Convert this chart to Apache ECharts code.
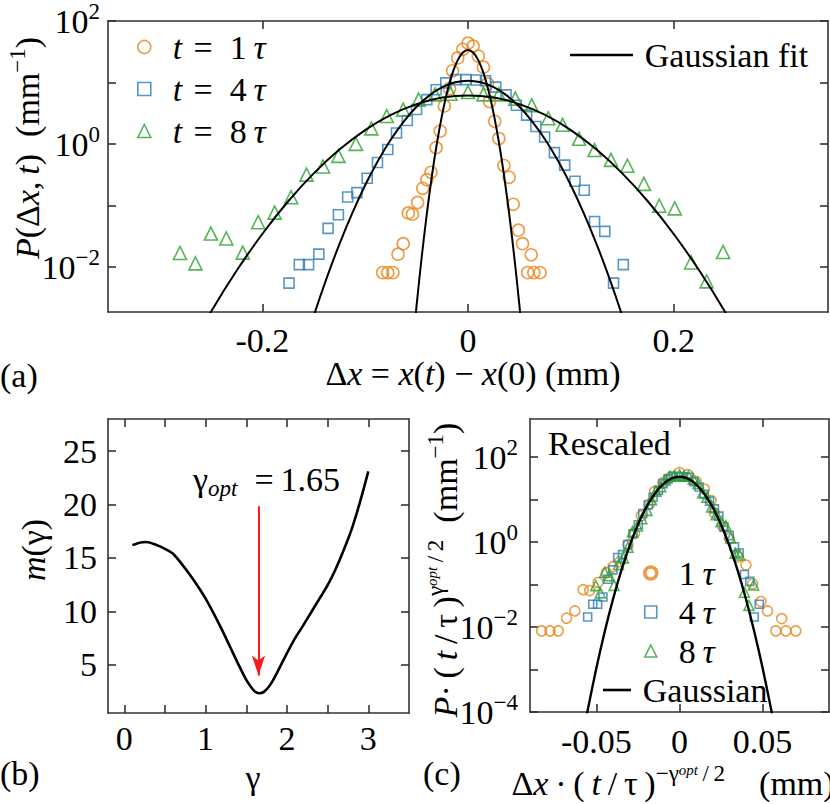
<!DOCTYPE html>
<html><head><meta charset="utf-8">
<script src="https://cdn.jsdelivr.net/npm/echarts@6.0.0/dist/echarts.min.js"></script>
<style>html,body{margin:0;padding:0;background:#fff}#c{width:830px;height:804px}
#fw{position:absolute;left:-9999px;top:0;font-family:'Liberation Serif';font-size:34px}</style>
</head><body><div id="fw">Gaussian fit 0.2 <i>t x</i> τγΔ</div><div id="c"></div><script>
// ---------------- Panel (a): P(dx,t), log10 values ----------------
const dx_t1 = [-0.083,-0.078,-0.073,-0.068,-0.063,-0.058,-0.054,-0.049,-0.044,-0.040,-0.036,-0.031,-0.027,-0.023,-0.018,-0.015,-0.010,-0.005,0.000,0.005,0.010,0.015,0.019,0.021,0.026,0.030,0.035,0.040,0.044,0.049,0.053,0.058,0.0615,0.064,0.070];
const logP_t1 = [-2.09,-2.09,-2.09,-1.79,-1.62,-1.12,-1.14,-0.95,-0.72,-0.58,-0.46,-0.06,0.21,0.62,0.90,1.19,1.40,1.54,1.64,1.59,1.43,1.25,0.98,0.69,0.37,0.09,-0.35,-0.54,-0.98,-1.40,-1.62,-2.09,-1.80,-2.09,-2.09];
const dx_t4 = [-0.174,-0.164,-0.155,-0.145,-0.136,-0.126,-0.117,-0.108,-0.098,-0.088,-0.078,-0.0695,-0.059,-0.050,-0.040,-0.031,-0.0216,-0.012,-0.002,0.008,0.017,0.027,0.037,0.047,0.057,0.066,0.0745,0.084,0.094,0.104,0.113,0.123,0.133,0.1415,0.151];
const logP_t4 = [-2.26,-1.96,-1.96,-1.79,-1.37,-1.15,-0.86,-0.79,-0.556,-0.30,-0.088,0.179,0.382,0.562,0.722,0.882,0.994,1.047,1.047,1.042,1.03,0.925,0.80,0.63,0.47,0.286,0.115,-0.14,-0.343,-0.604,-0.752,-1.26,-1.42,-2.26,-1.96];
const dx_t8 = [-0.280,-0.265,-0.250,-0.235,-0.219,-0.204,-0.188,-0.172,-0.157,-0.141,-0.126,-0.109,-0.094,-0.079,-0.063,-0.048,-0.032,-0.017,0.000,0.015,0.030,0.046,0.062,0.078,0.092,0.108,0.123,0.139,0.155,0.171,0.186,0.201,0.217,0.232,0.248];
const logP_t8 = [-1.77,-1.94,-1.455,-1.535,-1.765,-1.27,-1.115,-0.865,-0.497,-0.364,-0.193,0.003,0.254,0.455,0.56,0.722,0.807,0.818,0.845,0.807,0.807,0.738,0.63,0.42,0.313,0.085,-0.098,-0.257,-0.353,-0.647,-1.003,-1.046,-1.925,-2.233,-1.754];
// Gaussian fit curves
const fitX_t1 = [-0.055,-0.05,-0.045,-0.04,-0.035,-0.03,-0.025,-0.02,-0.015,-0.01,-0.005,0,0.005,0.01,0.015,0.02,0.025,0.03,0.035,0.04,0.045,0.05,0.055];
const fitLogP_t1 = [-3.498,-2.625,-1.836,-1.129,-0.506,0.034,0.491,0.865,1.156,1.364,1.488,1.53,1.488,1.364,1.156,0.865,0.491,0.034,-0.506,-1.129,-1.836,-2.625,-3.498];
const fitX_t4 = [-0.1625,-0.15,-0.1375,-0.125,-0.1125,-0.1,-0.0875,-0.075,-0.0625,-0.05,-0.0375,-0.025,-0.0125,0,0.0125,0.025,0.0375,0.05,0.0625,0.075,0.0875,0.1,0.1125,0.125,0.1375,0.15,0.1625];
const fitLogP_t4 = [-3.459,-2.795,-2.184,-1.626,-1.122,-0.670,-0.272,0.074,0.366,0.605,0.791,0.924,1.003,1.03,1.003,0.924,0.791,0.605,0.366,0.074,-0.272,-0.670,-1.122,-1.626,-2.184,-2.795,-3.459];
const fitX_t8 = [-0.275,-0.25,-0.225,-0.2,-0.175,-0.15,-0.125,-0.1,-0.075,-0.05,-0.025,0,0.025,0.05,0.075,0.1,0.125,0.15,0.175,0.2,0.225,0.25,0.275];
const fitLogP_t8 = [-3.468,-2.729,-2.060,-1.462,-0.934,-0.477,-0.090,0.227,0.473,0.649,0.755,0.79,0.755,0.649,0.473,0.227,-0.090,-0.477,-0.934,-1.462,-2.060,-2.729,-3.468];
const aXTicks = [-0.2,0,0.2];
const aYTicks = [-2,-1,0,1,2];
const aYLabels = [-2,0,2];

// ---------------- Panel (b): m(gamma) ----------------
const gamma = [0.1,0.2,0.27,0.4,0.5,0.6,0.7,0.8,0.9,1.0,1.1,1.2,1.3,1.4,1.5,1.6,1.66,1.72,1.8,1.9,2.0,2.1,2.2,2.3,2.4,2.5,2.6,2.7,2.8,2.9,3.0];
const mGamma = [16.2,16.45,16.5,16.2,15.85,15.4,14.5,13.5,12.4,11.2,9.8,8.3,6.7,5.1,3.6,2.55,2.35,2.5,3.2,4.6,6.1,7.5,8.7,9.95,11.2,12.45,14.0,15.8,17.8,20.3,23.1];
const gammaOpt = 1.65;
const arrowFrom = 19.85, arrowTo = 4.0;
const bXTicks = [0,0.5,1,1.5,2,2.5,3];
const bXLabels = [0,1,2,3];
const bYTicks = [5,10,15,20,25];

// ---------------- Panel (c): rescaled, log10 values ----------------
const dxr_t4 = [-0.0553,-0.0522,-0.0493,-0.0461,-0.0432,-0.0401,-0.0372,-0.0343,-0.0312,-0.0280,-0.0248,-0.0221,-0.0188,-0.0159,-0.0127,-0.0099,-0.0069,-0.0038,-0.0006,0.0025,0.0054,0.0086,0.0118,0.0149,0.0181,0.0210,0.0237,0.0267,0.0299,0.0331,0.0359,0.0391,0.0423,0.0450,0.0480];
const logPr_t4 = [-1.763,-1.463,-1.463,-1.293,-0.873,-0.653,-0.363,-0.293,-0.059,0.197,0.409,0.676,0.879,1.059,1.219,1.379,1.491,1.544,1.544,1.539,1.527,1.422,1.297,1.127,0.967,0.783,0.612,0.357,0.154,-0.107,-0.255,-0.763,-0.923,-1.763,-1.463];
const dxr_t8 = [-0.0504,-0.0477,-0.0450,-0.0423,-0.0394,-0.0367,-0.0338,-0.0310,-0.0283,-0.0254,-0.0227,-0.0196,-0.0169,-0.0142,-0.0113,-0.0086,-0.0058,-0.0031,0.0000,0.0027,0.0054,0.0083,0.0112,0.0140,0.0166,0.0194,0.0221,0.0250,0.0279,0.0308,0.0335,0.0362,0.0391,0.0418,0.0446];
const logPr_t8 = [-1.025,-1.195,-0.71,-0.79,-1.02,-0.525,-0.37,-0.12,0.248,0.381,0.552,0.748,0.999,1.20,1.305,1.467,1.552,1.563,1.59,1.552,1.552,1.483,1.375,1.165,1.058,0.83,0.647,0.488,0.392,0.098,-0.258,-0.301,-1.18,-1.488,-1.009];
const gaussX = [-0.06,-0.055,-0.05,-0.045,-0.04,-0.035,-0.03,-0.025,-0.02,-0.015,-0.01,-0.005,0,0.005,0.01,0.015,0.02,0.025,0.03,0.035,0.04,0.045,0.05,0.055,0.06];
const gaussLogP = [-4.94,-3.905,-2.96,-2.105,-1.34,-0.665,-0.08,0.415,0.82,1.135,1.36,1.495,1.54,1.495,1.36,1.135,0.82,0.415,-0.08,-0.665,-1.34,-2.105,-2.96,-3.905,-4.94];
const cXTicks = [-0.05,0,0.05];
const cYTicks = [-4,-3,-2,-1,0,1,2];
const cYLabels = [-4,-2,0,2];

// ---------------- styling ----------------
const FONT = 'Liberation Serif';
const AX = '#333';
const TICK = 34, T = 34;
const C1 = '#E8841A', C4 = '#2A7DB8', C8 = '#2CA02C';
const pairs = (xs, ys) => xs.map((x, i) => [x, ys[i]]);

const expRich = {
  b: {fontFamily: FONT, fontSize: TICK, lineHeight: 42, color: '#000'},
  s: {fontFamily: FONT, fontSize: 23, lineHeight: 22, verticalAlign: 'top', color: '#000'}
};
const expFmt = v => { const e = Math.round(v); return '{b|10}{s|' + (e < 0 ? '\u2212' + (-e) : e) + '}'; };

function ax(grid, pos, min, max, ticks, labels, show, fmt, margin) {
  const o = {
    type: 'value', gridIndex: grid, position: pos, min: min, max: max,
    axisLine: {show: true, onZero: false, lineStyle: {color: AX, width: 1.6}},
    axisTick: {show: true, inside: true, length: 8, customValues: ticks, lineStyle: {color: AX, width: 1.6}},
    axisLabel: {show: show, customValues: labels, margin: margin, color: '#000', fontFamily: FONT, fontSize: TICK},
    splitLine: {show: false}
  };
  if (fmt) { o.axisLabel.formatter = fmt; o.axisLabel.rich = expRich; }
  return o;
}

const xAxis = [
  ax(0, 'bottom', -0.35, 0.35, aXTicks, aXTicks, true, null, 11),
  ax(0, 'top', -0.35, 0.35, aXTicks, aXTicks, false, null, 8),
  ax(1, 'bottom', -0.2, 3.5, bXTicks, bXLabels, true, null, 8),
  ax(1, 'top', -0.2, 3.5, bXTicks, bXLabels, false, null, 8),
  ax(2, 'bottom', -0.09, 0.09, cXTicks, cXTicks, true, null, 12),
  ax(2, 'top', -0.09, 0.09, cXTicks, cXTicks, false, null, 8)
];
const yAxis = [
  ax(0, 'left', -2.73, 2, aYTicks, aYLabels, true, expFmt, 8),
  ax(0, 'right', -2.73, 2, aYTicks, aYLabels, false, null, 8),
  ax(1, 'left', 0.5, 28, bYTicks, bYTicks, true, null, 11),
  ax(1, 'right', 0.5, 28, bYTicks, bYTicks, false, null, 8),
  ax(2, 'left', -4, 2.9, cYTicks, cYLabels, true, expFmt, 12),
  ax(2, 'right', -4, 2.9, cYTicks, cYLabels, false, null, 8)
];

function scat(name, xi, data, sym, size, color) {
  return {type: 'scatter', name: name, xAxisIndex: xi, yAxisIndex: xi, data: data, symbol: sym, symbolSize: size,
    itemStyle: {color: 'rgba(0,0,0,0)', borderColor: color, borderWidth: 1.6}, silent: true, z: 2};
}
function curve(name, xi, data, width) {
  return {type: 'line', name: name, xAxisIndex: xi, yAxisIndex: xi, data: data, symbol: 'none', smooth: 0.3,
    lineStyle: {color: '#000', width: width}, itemStyle: {color: '#000'}, silent: true, z: 3, clip: true};
}

const series = [
  scat('t = 1τ', 0, pairs(dx_t1, logP_t1), 'circle', 12, C1),
  scat('t = 4τ', 0, pairs(dx_t4, logP_t4), 'rect', 10, C4),
  scat('t = 8τ', 0, pairs(dx_t8, logP_t8), 'triangle', 13, C8),
  curve('Gaussian fit', 0, pairs(fitX_t1, fitLogP_t1), 2),
  curve('Gaussian fit', 0, pairs(fitX_t4, fitLogP_t4), 2),
  curve('Gaussian fit', 0, pairs(fitX_t8, fitLogP_t8), 2),
  Object.assign(curve('m', 2, pairs(gamma, mGamma), 2.6), {
    markLine: {silent: true, symbol: ['none', 'arrow'], symbolSize: [10, 20], label: {show: false},
      lineStyle: {color: '#ff1a1a', width: 2, type: 'solid'},
      emphasis: {disabled: true},
      data: [[{coord: [gammaOpt, arrowFrom]}, {coord: [gammaOpt, arrowTo]}]]}
  }),
  scat('1τ', 4, pairs(dx_t1, logP_t1), 'circle', 10, C1),
  scat('4τ', 4, pairs(dxr_t4, logPr_t4), 'rect', 8, C4),
  scat('8τ', 4, pairs(dxr_t8, logPr_t8), 'triangle', 10, C8),
  curve('Gaussian', 4, pairs(gaussX, gaussLogP), 2.4)
];

const legRich = {i: {fontFamily: FONT, fontSize: T, fontStyle: 'italic', lineHeight: 36, color: '#000'}};
const legText = {fontFamily: FONT, fontSize: T, color: '#000', lineHeight: 36, rich: legRich};
const legNames = {
  't = 1τ': '\u2002{i|t}\u2004=\u20021\u2009{i|τ}',
  't = 4τ': '\u2002{i|t}\u2004=\u20024\u2009{i|τ}',
  't = 8τ': '\u2002{i|t}\u2004=\u20028\u2009{i|τ}',
  '1τ': '\u20021\u2009{i|τ}', '4τ': '\u20024\u2009{i|τ}', '8τ': '\u20028\u2009{i|τ}',
  'Gaussian fit': '\u2009Gaussian fit', 'Gaussian': '\u2009Gaussian'
};
const legFmt = n => legNames[n] || n;
const legend = [
  {orient: 'vertical', left: 137, top: 29, padding: 0, itemWidth: 13, itemHeight: 13, itemGap: 6,
    selectedMode: false, data: ['t = 1τ', 't = 4τ', 't = 8τ'], formatter: legFmt, textStyle: legText,
    itemStyle: {borderWidth: 1.6}},
  {orient: 'vertical', left: 570, top: 37, padding: 0, itemWidth: 63, itemHeight: 2.6, icon: 'rect',
    selectedMode: false, data: ['Gaussian fit'], formatter: legFmt, textStyle: legText},
  {orient: 'vertical', left: 643, top: 555, padding: 0, itemWidth: 12, itemHeight: 12, itemGap: 3,
    selectedMode: false, data: [{name: '1τ', itemStyle: {borderWidth: 3.5}}, '4τ', '8τ'], formatter: legFmt,
    textStyle: legText, itemStyle: {borderWidth: 1.6}},
  {orient: 'vertical', left: 603, top: 672, padding: 0, itemWidth: 28, itemHeight: 2.6, icon: 'rect',
    selectedMode: false, data: ['Gaussian'], formatter: legFmt, textStyle: legText}
];

const RT = {
  i: {fontFamily: FONT, fontSize: T, fontStyle: 'italic', lineHeight: 42},
  s: {fontFamily: FONT, fontSize: 23, lineHeight: 22, verticalAlign: 'top'},
  ss: {fontFamily: FONT, fontSize: 15, fontStyle: 'italic', lineHeight: 36, verticalAlign: 'top'},
  sub: {fontFamily: FONT, fontSize: 23, fontStyle: 'italic', lineHeight: 18, verticalAlign: 'bottom'}
};
function txt(x, y, text, opt) {
  opt = opt || {};
  return {type: 'text', x: x, y: y, rotation: opt.rot || 0, silent: true, z: 10,
    style: {text: text, fontFamily: FONT, fontSize: opt.size || T, lineHeight: 42, fill: '#000',
      align: opt.align || 'center', verticalAlign: 'middle', rich: RT}};
}
const graphic = {elements: [
  txt(27, 148, '{i|P}(Δ{i|x},\u2009{i|t})\u2002(mm{s|\u22121})', {rot: Math.PI / 2}),
  txt(473, 373, 'Δ{i|x} = {i|x}({i|t}) \u2212 {i|x}(0) (mm)'),
  txt(0, 375, '(a)', {align: 'left'}),
  txt(33, 550, '{i|m}(γ)', {rot: Math.PI / 2}),
  txt(253, 777, 'γ'),
  txt(0, 773, '(b)', {align: 'left'}),
  txt(193, 479, 'γ{sub|opt}\u2002=\u20091.65', {align: 'left'}),
  txt(445, 570, '{i|P}·\u2009(\u2009{i|t}\u2009/\u2009τ\u2009){s|γ}{ss|opt}{s|\u2009/\u20092}\u2002(mm{s|\u22121})', {rot: Math.PI / 2}),
  txt(673, 783, 'Δ{i|x}\u2009·\u2009(\u2009{i|t}\u2009/\u2009τ\u2009){s|\u2212γ}{ss|opt}{s|\u2009/\u20092}\u2003(mm)'),
  txt(423, 773, '(c)', {align: 'left'}),
  txt(548, 443, 'Rescaled', {align: 'left'})
]};

const option = {
  animation: false,
  backgroundColor: '#fff',
  textStyle: {fontFamily: FONT},
  grid: [
    {left: 108, top: 16, width: 720, height: 296},
    {left: 108, top: 419, width: 301, height: 294},
    {left: 530, top: 419, width: 299, height: 293}
  ],
  xAxis: xAxis, yAxis: yAxis, series: series, legend: legend, graphic: graphic
};
const chart = echarts.init(document.getElementById('c'), null, {renderer: 'svg'});
chart.setOption(option);
</script></body></html>
